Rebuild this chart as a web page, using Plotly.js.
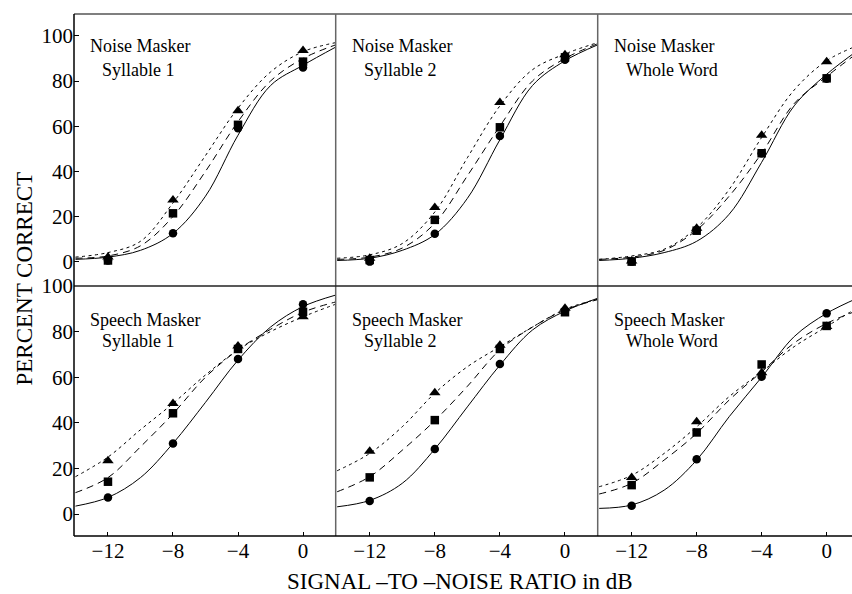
<!DOCTYPE html>
<html>
<head>
<meta charset="utf-8">
<script src="https://cdn.plot.ly/plotly-3.0.1.min.js"></script>
<style>html,body{margin:0;padding:0;background:#fff;}#chart{width:852px;height:594px;}</style>
</head>
<body>
<div id="chart"></div>
<script>
// ---- data ----
const snr = [-12, -8, -4, 0];
const curveX = [-14, -12, -10, -8, -6, -4, -2, 0, 2];
const yTicks = [0, 20, 40, 60, 80, 100];
const xTicks = [-12, -8, -4, 0];

const panelLine1 = ["Noise Masker", "Noise Masker", "Noise Masker", "Speech Masker", "Speech Masker", "Speech Masker"];
const panelLine2 = ["Syllable 1", "Syllable 2", "Whole Word", "Syllable 1", "Syllable 2", "Whole Word"];

// Noise masker, syllable 1
const p1Circle = [0.5, 12.6, 59.1, 86];
const p1Square = [0.5, 21.4, 60.6, 88.6];
const p1Triangle = [2, 27.3, 66.8, 93.5];
const p1Solid = [1, 2, 5, 12.5, 29, 56, 78, 87, 95];
const p1Long = [1.5, 2.5, 7, 20, 40, 62, 80, 90, 96];
const p1Short = [2, 4, 9, 26, 47, 68, 84, 93, 97];

// Noise masker, syllable 2
const p2Circle = [0, 12.3, 55.7, 89.4];
const p2Square = [0.7, 18.5, 59.5, 90.5];
const p2Triangle = [1.5, 24, 70.5, 91.6];
const p2Solid = [0.5, 1.5, 5, 12, 28, 54, 78, 89, 96];
const p2Long = [1, 2, 6, 17, 38, 60, 80, 90, 96.5];
const p2Short = [1.5, 3, 8, 22, 46, 69, 85, 92, 97];

// Noise masker, whole word
const p3Circle = [0, 14, 48, 81];
const p3Square = [0, 13.7, 48, 81.2];
const p3Triangle = [0.3, 14.8, 56, 88.6];
const p3Solid = [0.5, 1.5, 4, 9, 21, 44, 69, 83, 94];
const p3Long = [1, 2, 5, 14, 29, 48, 70, 82, 93];
const p3Short = [1, 2.5, 5.5, 15, 32, 55, 76, 89, 96];

// Speech masker, syllable 1
const p4Circle = [7.3, 31, 68, 92];
const p4Square = [14.2, 44.2, 72.4, 88.7];
const p4Triangle = [23.4, 48.5, 73.7, 86.5];
const p4Solid = [3.5, 7.3, 16, 31, 49, 67.5, 82, 91, 96];
const p4Long = [9.4, 16, 29.5, 44, 60, 72, 81, 88.5, 93];
const p4Short = [16.4, 25, 37, 48.5, 61, 72, 80, 86.5, 92];

// Speech masker, syllable 2
const p5Circle = [5.7, 28.5, 65.8, 89];
const p5Square = [16.1, 41.2, 72.4, 88.5];
const p5Triangle = [27.6, 53.2, 74, 90.2];
const p5Solid = [3.2, 6, 13.5, 28.5, 47, 65.3, 80.7, 89, 94.6];
const p5Long = [9.8, 16.4, 28, 41, 56, 72, 82, 89.5, 94];
const p5Short = [19, 26.6, 38.3, 53, 64.6, 73.4, 82, 89.8, 94.2];

// Speech masker, whole word
const p6Circle = [3.7, 24, 60.2, 88];
const p6Square = [12.7, 35.8, 65.6, 82.5];
const p6Triangle = [16, 40.5, 62, 82.2];
const p6Solid = [2.5, 4, 10.5, 23.7, 42.7, 60, 77.8, 88, 95];
const p6Long = [8.8, 13.5, 23.7, 35.4, 50, 62.4, 75, 83.6, 89.5];
const p6Short = [12, 17, 26.6, 38.3, 51.5, 62.4, 73.4, 82.2, 91];

// ---- build ----
const panels = [
  {c: p1Circle, s: p1Square, t: p1Triangle, solid: p1Solid, lng: p1Long, sht: p1Short},
  {c: p2Circle, s: p2Square, t: p2Triangle, solid: p2Solid, lng: p2Long, sht: p2Short},
  {c: p3Circle, s: p3Square, t: p3Triangle, solid: p3Solid, lng: p3Long, sht: p3Short},
  {c: p4Circle, s: p4Square, t: p4Triangle, solid: p4Solid, lng: p4Long, sht: p4Short},
  {c: p5Circle, s: p5Square, t: p5Triangle, solid: p5Solid, lng: p5Long, sht: p5Short},
  {c: p6Circle, s: p6Square, t: p6Triangle, solid: p6Solid, lng: p6Long, sht: p6Short}
];

const W = 852, H = 594, ML = 74, MT = 14, MB = 58;
const plotW = W - ML, plotH = H - MT - MB;
const px = v => (v - ML) / plotW;         // pixel x -> paper
const py = v => (H - MB - v) / plotH;     // pixel y -> paper

const colEdges = [74, 335.7, 597.7, 852];
const rowSplit = py(286);
const xDom = [[0, px(335.7)], [px(335.7), px(597.7)], [px(597.7), 1]];
const yDom = [[rowSplit, 1], [0, rowSplit]];
const xRanges = [[-14.09, 2.01], [-14.09, 2.01], [-14.09, 1.56]];
const yRanges = [[-10.8, 109.7], [-9.6, 100]];

const traces = [];
const layout = {
  width: W, height: H,
  margin: {l: ML, r: 0, t: MT, b: MB, pad: 0},
  paper_bgcolor: '#fff', plot_bgcolor: '#fff',
  showlegend: false,
  font: {family: 'Liberation Serif, Times New Roman, serif', size: 20, color: '#000'},
  annotations: [], shapes: []
};
const tickFont = {family: 'Liberation Serif, serif', size: 21, color: '#000'};

panels.forEach((p, i) => {
  const n = i + 1;
  const col = i % 3, row = Math.floor(i / 3);
  const xa = n === 1 ? 'x' : 'x' + n, ya = n === 1 ? 'y' : 'y' + n;
  const xk = n === 1 ? 'xaxis' : 'xaxis' + n, yk = n === 1 ? 'yaxis' : 'yaxis' + n;
  layout[xk] = {
    domain: xDom[col], range: xRanges[col], anchor: ya,
    showgrid: false, zeroline: false, showline: false,
    tickvals: xTicks, showticklabels: row === 1,
    ticks: row === 1 ? 'inside' : '', ticklen: 4, tickwidth: 1, tickcolor: '#000',
    tickfont: tickFont, fixedrange: true
  };
  layout[yk] = {
    domain: yDom[row], range: yRanges[row], anchor: xa,
    showgrid: false, zeroline: false, showline: false,
    tickvals: yTicks, showticklabels: col === 0,
    ticks: col === 0 ? 'inside' : '', ticklen: 5, tickwidth: 1, tickcolor: '#000',
    tickfont: tickFont, fixedrange: true
  };
  const lineBase = {x: curveX, xaxis: xa, yaxis: ya, mode: 'lines', hoverinfo: 'skip',
                    line: {shape: 'spline', smoothing: 1, width: 1, color: '#000'}};
  traces.push(Object.assign({}, lineBase, {y: p.solid, line: Object.assign({}, lineBase.line, {dash: 'solid'})}));
  traces.push(Object.assign({}, lineBase, {y: p.lng, line: Object.assign({}, lineBase.line, {dash: '7px,5px'})}));
  traces.push(Object.assign({}, lineBase, {y: p.sht, line: Object.assign({}, lineBase.line, {dash: '3px,3.5px'})}));
  traces.push({x: snr, y: p.t, xaxis: xa, yaxis: ya, mode: 'markers', cliponaxis: false,
               marker: {symbol: 'triangle-up', size: 10, color: '#000'}});
  traces.push({x: snr, y: p.c, xaxis: xa, yaxis: ya, mode: 'markers', cliponaxis: false,
               marker: {symbol: 'circle', size: 8.5, color: '#000'}});
  traces.push({x: snr, y: p.s, xaxis: xa, yaxis: ya, mode: 'markers', cliponaxis: false,
               marker: {symbol: 'square', size: 8.5, color: '#000'}});

  // panel labels (two lines, second indented)
  const left = colEdges[col];
  const base1 = row === 0 ? 52.3 : 326;
  const base2 = row === 0 ? 76 : 347;
  const lblFont = {family: 'Liberation Serif, serif', size: 18, color: '#000'};
  layout.annotations.push({xref: 'paper', yref: 'paper', x: px(left + 15), y: py(base1 - 6),
    xanchor: 'left', yanchor: 'middle', text: panelLine1[i], showarrow: false, font: lblFont, borderpad: 0});
  layout.annotations.push({xref: 'paper', yref: 'paper', x: px(left + 27), y: py(base2 - 6),
    xanchor: 'left', yanchor: 'middle', text: panelLine2[i], showarrow: false, font: lblFont, borderpad: 0});
});

// axis titles
layout.annotations.push({xref: 'paper', yref: 'paper', x: px(23.5), y: py(279), textangle: -90,
  xanchor: 'center', yanchor: 'middle', text: 'PERCENT CORRECT', showarrow: false,
  font: {family: 'Liberation Serif, serif', size: 23, color: '#000'}});
layout.annotations.push({xref: 'paper', yref: 'paper', x: px(460), y: py(581), borderpad: 0,
  xanchor: 'center', yanchor: 'middle', text: 'SIGNAL \u2013TO \u2013NOISE RATIO in dB', showarrow: false,
  font: {family: 'Liberation Serif, serif', size: 23, color: '#000'}});

// frame lines
const line = (x0, y0, x1, y1, color) => ({type: 'line', xref: 'paper', yref: 'paper',
  x0, y0, x1, y1, line: {color, width: 1.5}, layer: 'above'});
layout.shapes.push(line(0, 1, 1, 1, '#555'));
layout.shapes.push(line(xDom[0][1], 0, xDom[0][1], 1, '#666'));
layout.shapes.push(line(xDom[1][1], 0, xDom[1][1], 1, '#666'));
layout.shapes.push(line(0, rowSplit, 1, rowSplit, '#222'));
layout.shapes.push(line(0, 0, 0, 1, '#000'));
layout.shapes.push(line(0, 0, 1, 0, '#000'));

Plotly.newPlot('chart', traces, layout, {staticPlot: true, displayModeBar: false});
</script>
</body>
</html>
